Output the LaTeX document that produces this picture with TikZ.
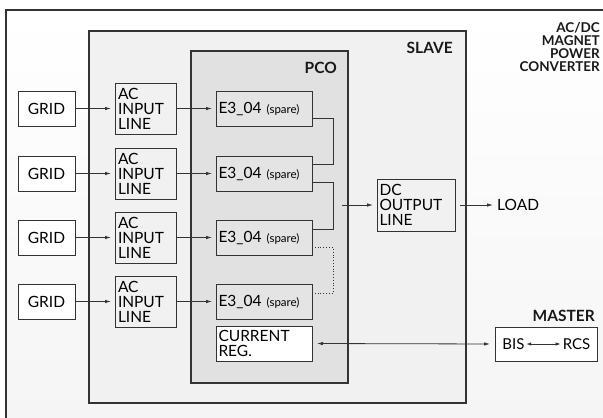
\documentclass[tikz,border=0pt]{standalone}
\usepackage{fontspec}
\setmainfont{Lato}
\usetikzlibrary{arrows.meta}
\definecolor{ln}{HTML}{333333}
\definecolor{slavefill}{HTML}{F1F1F1}
\definecolor{pcofill}{HTML}{E1E1E1}
\definecolor{efill}{HTML}{E4E4E4}
\begin{document}
\begin{tikzpicture}[x=1pt,y=-1pt,
  box/.style={draw=ln, line width=0.9pt, outer sep=0pt, inner sep=0pt},
  big/.style={font=\fontsize{15.5}{15}\selectfont},
  gridbox/.style={box, big, fill=white, minimum width=57pt, minimum height=35pt},
  acbox/.style={box, big, fill=slavefill, minimum width=61pt, minimum height=51pt, text width=55pt, inner xsep=3pt, align=left},
  ebox/.style={box, big, fill=efill, minimum width=96pt, minimum height=35pt, text width=91pt, inner xsep=2.5pt, align=left},
  head/.style={font=\fontsize{15.5}{12}\selectfont\bfseries, text=black!90, inner sep=0pt},
  arr/.style={draw=ln, line width=0.8pt, -{Latex[length=6pt,width=3.5pt]}, shorten >=4pt},
  conn/.style={draw=ln, line width=0.8pt}
]
\useasboundingbox (0,0) rectangle (603,418);
\begin{scope}
\clip (0,0) rectangle (603,418);
\node[box, line width=1.2pt, top color=white, bottom color=black!4, minimum width=610pt, minimum height=420pt] (outer) at (311,220) {};
\end{scope}
\node[box, line width=1.1pt, fill=slavefill, minimum width=377pt, minimum height=372pt] (slave) at (277.5,217) {};
\node[box, line width=1.1pt, fill=pcofill, minimum width=157pt, minimum height=332pt] (pco) at (269.5,217) {};

\node[head, anchor=east] (slavelbl) at (453,48) {SLAVE};
\node[head, anchor=east] (pcolbl) at (337,68) {PCO};
\node[head, anchor=east] (masterlbl) at (595,316) {MASTER};
\node[head, font=\fontsize{13.5}{13}\selectfont\bfseries, anchor=north east, align=right] (title) at (600,22) {AC/DC\\MAGNET\\POWER\\CONVERTER};

\foreach \i/\y in {1/108.5,2/173.5,3/237.5,4/301.5}{
  \node[gridbox] (grid\i) at (46.5,\y) {GRID};
  \node[acbox] (ac\i) at (145.5,\y) {AC\\INPUT\\LINE};
  \node[ebox] (e\i) at (264,\y) {E3\_04 {\fontsize{11.5}{12}\selectfont(spare)}};
  \draw[arr] (grid\i) -- (ac\i);
  \draw[arr] (ac\i) -- (e\i);
}

\node[box, big, fill=white, minimum width=96pt, minimum height=35pt, text width=91pt, inner xsep=2.5pt, align=left] (cur) at (264,343.5) {CURRENT\\REG.};
\node[acbox, minimum width=78pt, minimum height=52pt, text width=73pt, inner xsep=2.5pt] (dc) at (416,205) {DC\\OUTPUT\\LINE};
\node[big, font=\fontsize{15.5}{15}\selectfont, anchor=west, inner sep=0pt] (load) at (497,205) {LOAD};

\node[box, fill=white, minimum width=102pt, minimum height=34pt] (master) at (546,344) {};
\node[big, font=\fontsize{15}{15}\selectfont, inner sep=0pt] (bis) at (513.5,344) {BIS};
\node[big, font=\fontsize{15}{15}\selectfont, inner sep=0pt] (rcs) at (576.5,344) {RCS};
\draw[conn, {Latex[length=5pt,width=3.5pt]}-{Latex[length=5pt,width=3.5pt]}] (bis.east) ++(1.5pt,0) coordinate (bisr) -- ([xshift=-2pt]rcs.west) coordinate (rcsl);

\coordinate (dcin) at (342,205);
\draw[arr] (dcin) -- (dc.west);
\draw[arr] (dc.east) ++(5pt,0) coordinate (dcout) -- (load.west);

\draw[conn] ([yshift=-9.5pt]e1.east) -| ++(21pt,0) |- ([yshift=9.5pt]e2.east);
\draw[conn] ([yshift=-8.5pt]e2.east) -- ++(21pt,0) |- ([yshift=8pt]e3.east);
\draw[conn, dotted, line width=0.9pt] ([yshift=-10pt]e3.east) -- ++(21pt,0) |- ([yshift=8.5pt]e4.east);

\draw[conn, {Latex[length=6pt,width=3.5pt]}-{Latex[length=6pt,width=3.5pt]}, shorten <=5pt, shorten >=5pt] (cur.east) -- (master.west);
\end{tikzpicture}
\end{document}
